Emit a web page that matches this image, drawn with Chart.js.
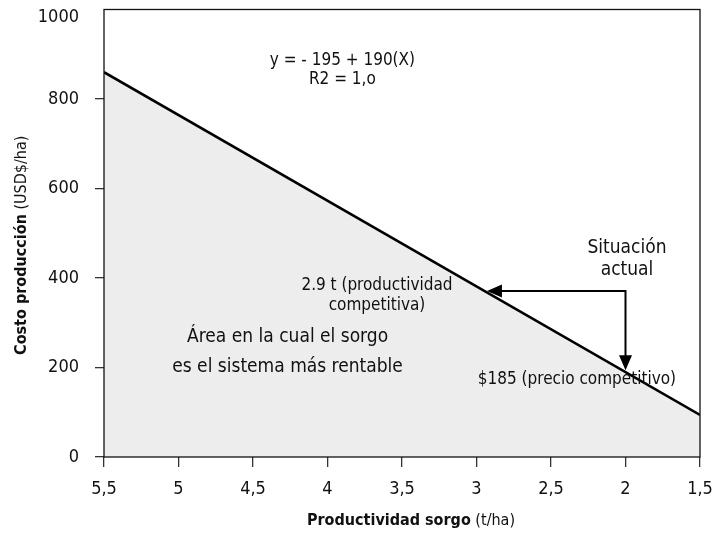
<!DOCTYPE html>
<html>
<head>
<meta charset="utf-8">
<script src="https://cdn.jsdelivr.net/npm/chart.js@4.4.1/dist/chart.umd.min.js"></script>
<style>
  body { margin: 0; background: #fff; }
</style>
</head>
<body>
<canvas id="costo-chart" width="717" height="533"></canvas>
<script>
var FONT = '"Liberation Sans Narrow", "DejaVu Sans Condensed", "Arial Narrow", sans-serif';

// datos
var productividad = [5.5, 1.5];
var costo = [860, 94];
var x_ticks = [5.5, 5, 4.5, 4, 3.5, 3, 2.5, 2, 1.5];
var y_ticks = [0, 200, 400, 600, 800, 1000];

// flechas desde la situacion actual (x en t/ha, y en USD$/ha)
var arrow_corner = [2.0, 371];
var arrow_left_tip = [2.93, 371];
var arrow_down_tip = [2.0, 194];

var notes = [
  { x: 3.9, y: 885, lines: ['y = - 195 + 190(X)', 'R2 = 1,o'], size: 17, gap: 19 },
  { x: 1.99, y: 467, lines: ['Situación', 'actual'], size: 19, gap: 22 },
  { x: 3.668, y: 384, lines: ['2.9 t (productividad', 'competitiva)'], size: 17, gap: 20 },
  { x: 4.268, y: 268, lines: ['Área en la cual el sorgo', 'es el sistema más rentable'], size: 19, gap: 30 },
  { x: 2.326, y: 172, lines: ['$185 (precio competitivo)'], size: 17, gap: 0 }
];

function arrowHead(ctx, fx, fy, tx, ty) {
  var a = Math.atan2(ty - fy, tx - fx);
  var len = 15, half = 6.5;
  ctx.beginPath();
  ctx.moveTo(tx, ty);
  ctx.lineTo(tx - len * Math.cos(a) + half * Math.sin(a), ty - len * Math.sin(a) - half * Math.cos(a));
  ctx.lineTo(tx - len * Math.cos(a) - half * Math.sin(a), ty - len * Math.sin(a) + half * Math.cos(a));
  ctx.closePath();
  ctx.fill();
}

function mixedTitle(ctx, boldTxt, normalTxt, size) {
  ctx.font = 'bold ' + size + 'px ' + FONT;
  var w1 = ctx.measureText(boldTxt).width;
  ctx.font = size + 'px ' + FONT;
  var w2 = ctx.measureText(normalTxt).width;
  var start = -(w1 + w2) / 2;
  ctx.textAlign = 'left';
  ctx.textBaseline = 'middle';
  ctx.font = 'bold ' + size + 'px ' + FONT;
  ctx.fillText(boldTxt, start, 0);
  ctx.font = size + 'px ' + FONT;
  ctx.fillText(normalTxt, start + w1, 0);
}

var extras = {
  id: 'extras',
  afterDatasetsDraw: function(chart) {
    var ctx = chart.ctx;
    var xs = chart.scales.x, ys = chart.scales.y;
    var area = chart.chartArea;
    ctx.save();

    // marco del grafico
    ctx.strokeStyle = '#111';
    ctx.lineWidth = 1.3;
    ctx.strokeRect(area.left, area.top, area.right - area.left, area.bottom - area.top);

    // flechas
    var cx = xs.getPixelForValue(arrow_corner[0]), cy = ys.getPixelForValue(arrow_corner[1]);
    var lx = xs.getPixelForValue(arrow_left_tip[0]), ly = ys.getPixelForValue(arrow_left_tip[1]);
    var dx = xs.getPixelForValue(arrow_down_tip[0]), dy = ys.getPixelForValue(arrow_down_tip[1]);
    ctx.strokeStyle = '#000';
    ctx.fillStyle = '#000';
    ctx.lineWidth = 2;
    ctx.beginPath();
    ctx.moveTo(lx + 10, ly);
    ctx.lineTo(cx, cy);
    ctx.lineTo(dx, dy - 10);
    ctx.stroke();
    arrowHead(ctx, cx, cy, lx, ly);
    arrowHead(ctx, cx, cy, dx, dy);

    // textos
    ctx.fillStyle = '#111';
    ctx.textAlign = 'center';
    ctx.textBaseline = 'middle';
    notes.forEach(function(n) {
      ctx.font = n.size + 'px ' + FONT;
      var px = xs.getPixelForValue(n.x), py = ys.getPixelForValue(n.y);
      n.lines.forEach(function(t, i) {
        ctx.fillText(t, px, py + i * n.gap);
      });
    });

    // la etiqueta 1000 va un poco mas abajo que su valor, como en el original
    var topTick = y_ticks[y_ticks.length - 1];
    ctx.font = '18px ' + FONT;
    ctx.textAlign = 'right';
    ctx.fillText(String(topTick), area.left - 25, ys.getPixelForValue(topTick) + 8);

    // titulos de ejes
    ctx.save();
    ctx.translate((area.left + area.right) / 2 + 9, 521);
    mixedTitle(ctx, 'Productividad sorgo', ' (t/ha)', 16);
    ctx.restore();
    ctx.save();
    ctx.translate(22, (area.top + area.bottom) / 2 + 12);
    ctx.rotate(-Math.PI / 2);
    mixedTitle(ctx, 'Costo producción', ' (USD$/ha)', 16);
    ctx.restore();

    ctx.restore();
  }
};

var points = productividad.map(function(v, i) { return { x: v, y: costo[i] }; });

new Chart(document.getElementById('costo-chart'), {
  type: 'line',
  data: {
    datasets: [{
      data: points,
      borderColor: '#000',
      borderWidth: 2.6,
      backgroundColor: '#ededed',
      fill: 'origin',
      pointRadius: 0,
      tension: 0
    }]
  },
  options: {
    responsive: false,
    animation: false,
    layout: { padding: { left: 0, right: 17, top: 9.5, bottom: 0 } },
    plugins: {
      legend: { display: false },
      tooltip: { enabled: false }
    },
    scales: {
      x: {
        type: 'linear',
        reverse: true,
        min: 1.5,
        max: 5.5,
        afterBuildTicks: function(scale) {
          scale.ticks = x_ticks.map(function(v) { return { value: v }; });
        },
        afterFit: function(scale) {
          scale.height = 76;
          scale.paddingLeft = 0;
          scale.paddingRight = 0;
        },
        border: { display: false },
        grid: { drawOnChartArea: false, tickLength: 10, color: '#333', lineWidth: 1.3 },
        ticks: {
          padding: 12,
          color: '#111',
          font: { family: FONT, size: 18 },
          callback: function(v) { return String(v).replace('.', ','); }
        }
      },
      y: {
        min: 0,
        max: 1000,
        afterBuildTicks: function(scale) {
          scale.ticks = y_ticks.map(function(v) { return { value: v }; });
        },
        afterFit: function(scale) {
          scale.width = 104;
          scale.paddingTop = 0;
          scale.paddingBottom = 0;
        },
        border: { display: false },
        grid: {
          drawOnChartArea: false,
          tickLength: 9,
          lineWidth: 1.3,
          color: function(c) { return c.tick && c.tick.value === 1000 ? 'rgba(0,0,0,0)' : '#333'; }
        },
        ticks: {
          padding: 16,
          color: '#111',
          font: { family: FONT, size: 18 },
          callback: function(v) { return v === 1000 ? '' : String(v); }
        }
      }
    }
  },
  plugins: [extras]
});
</script>
</body>
</html>
